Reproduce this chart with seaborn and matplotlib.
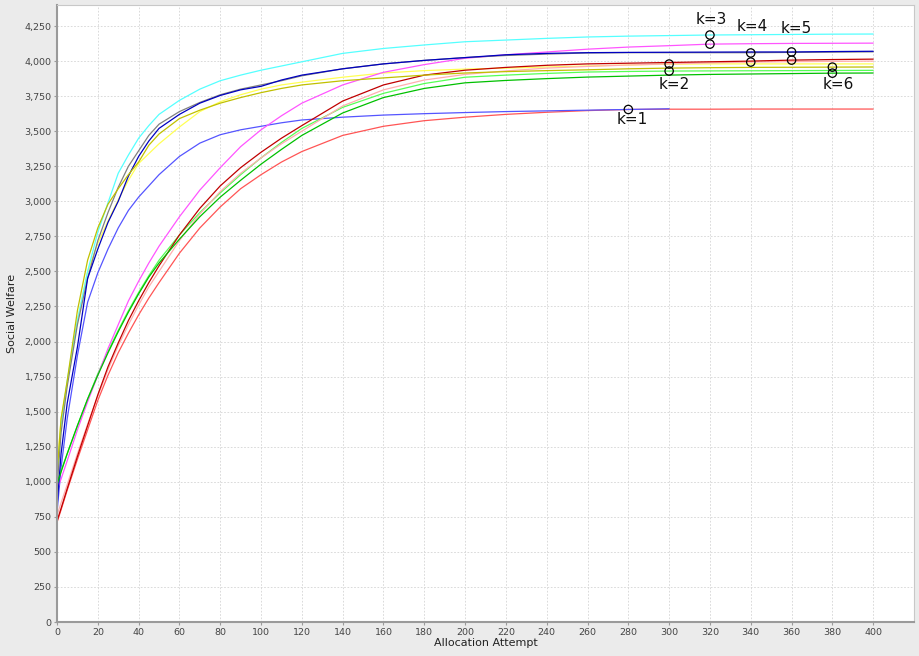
import matplotlib
matplotlib.use("Agg")
import matplotlib.pyplot as plt
from matplotlib.ticker import MultipleLocator, FuncFormatter
import pandas as pd
import seaborn as sns

# Allocation attempts at which social welfare was sampled
attempts = [0, 2, 5, 10, 15, 20, 25, 30, 35, 40, 45, 50, 60, 70, 80, 90, 100,
            110, 120, 140, 160, 180, 200, 220, 240, 260, 280, 300, 320, 340,
            360, 380, 400]

# Social welfare per run (slow / fast variant for each k)
welfare_red = [710, 800, 940, 1160, 1370, 1580, 1760, 1920, 2060, 2190, 2310,
               2420, 2630, 2810, 2960, 3090, 3190, 3280, 3355, 3470, 3535,
               3575, 3600, 3620, 3635, 3647, 3655, 3657, 3657, 3658, 3658,
               3658, 3658]
welfare_blue = [780, 1100, 1450, 1900, 2280, 2490, 2660, 2810, 2935, 3030,
                3110, 3190, 3320, 3415, 3475, 3510, 3535, 3560, 3580, 3600,
                3615, 3625, 3633, 3640, 3645, 3650, 3655, 3660]
welfare_green = [1000, 1080, 1200, 1400, 1590, 1770, 1930, 2080, 2220, 2350,
                 2470, 2580, 2760, 2920, 3060, 3190, 3310, 3420, 3520, 3670,
                 3770, 3840, 3885, 3900, 3912, 3922, 3926, 3929, 3930, 3931,
                 3932, 3933, 3934]
welfare_yellow = [1080, 1450, 1700, 2150, 2500, 2700, 2860, 3010, 3150, 3270,
                  3340, 3410, 3530, 3640, 3710, 3760, 3800, 3830, 3850, 3885,
                  3915, 3932, 3943, 3950, 3958, 3965, 3972, 3978, 3980, 3980,
                  3980, 3980, 3980]
welfare_magenta = [940, 1020, 1150, 1370, 1570, 1760, 1950, 2120, 2290, 2430,
                   2560, 2680, 2890, 3080, 3240, 3390, 3510, 3610, 3700, 3830,
                   3920, 3975, 4020, 4045, 4065, 4085, 4100, 4110, 4121, 4124,
                   4126, 4127, 4128]
welfare_cyan = [1000, 1400, 1720, 2150, 2500, 2780, 2990, 3200, 3330, 3450,
                3540, 3620, 3720, 3800, 3860, 3900, 3935, 3965, 3995, 4055,
                4090, 4115, 4138, 4150, 4162, 4172, 4178, 4182, 4186, 4188,
                4190, 4192, 4193]
welfare_pink = [760, 850, 980, 1200, 1410, 1610, 1800, 1970, 2120, 2260, 2390,
                2500, 2720, 2910, 3070, 3200, 3310, 3410, 3500, 3680, 3795,
                3865, 3905, 3930, 3950, 3962, 3972, 3980, 3987, 3993, 3996,
                3998, 4000]
welfare_gray = [950, 1350, 1680, 2120, 2450, 2720, 2920, 3100, 3250, 3360,
                3470, 3550, 3640, 3705, 3760, 3800, 3830, 3860, 3895, 3945,
                3980, 4005, 4025, 4040, 4050, 4058, 4060, 4060, 4060, 4060,
                4062, 4064, 4066]
welfare_dark_red = [720, 810, 950, 1180, 1400, 1620, 1820, 1990, 2150, 2290,
                    2420, 2540, 2760, 2950, 3110, 3240, 3350, 3450, 3540, 3715,
                    3830, 3900, 3935, 3955, 3970, 3980, 3985, 3990, 3995, 4000,
                    4007, 4011, 4014]
welfare_dark_blue = [820, 1200, 1560, 1960, 2450, 2660, 2850, 3000, 3180, 3320,
                     3430, 3520, 3620, 3700, 3755, 3795, 3820, 3865, 3900,
                     3945, 3980, 4005, 4025, 4045, 4055, 4060, 4062, 4063,
                     4064, 4065, 4065, 4068, 4070]
welfare_dark_green = [980, 1070, 1200, 1400, 1590, 1760, 1920, 2070, 2210,
                      2340, 2460, 2560, 2730, 2890, 3030, 3150, 3265, 3370,
                      3470, 3630, 3740, 3805, 3845, 3862, 3875, 3886, 3893,
                      3900, 3905, 3908, 3911, 3914, 3915]
welfare_dark_yellow = [1050, 1450, 1720, 2220, 2580, 2810, 2980, 3090, 3190,
                       3280, 3400, 3480, 3590, 3650, 3700, 3740, 3775, 3805,
                       3830, 3860, 3880, 3900, 3915, 3925, 3932, 3938, 3945,
                       3950, 3953, 3955, 3956, 3957, 3958]

series_names = ["red", "blue", "green", "yellow", "magenta", "cyan", "pink",
                "gray", "dark red", "dark blue", "dark green", "dark yellow"]
series_values = [welfare_red, welfare_blue, welfare_green, welfare_yellow,
                 welfare_magenta, welfare_cyan, welfare_pink, welfare_gray,
                 welfare_dark_red, welfare_dark_blue, welfare_dark_green,
                 welfare_dark_yellow]
series_colors = ["#FF5555", "#5555FF", "#55FF55", "#FFFF55", "#FF55FF",
                 "#55FFFF", "#FFAFAF", "#808080", "#C00000", "#0000C0",
                 "#00C000", "#C0C000"]

# Points where each k-run settles
marker_attempts = [280, 300, 300, 320, 320, 340, 340, 360, 360, 380, 380]
marker_welfare = [3655, 3979, 3929, 4186, 4121, 4058, 3993, 4065, 4007, 3957,
                  3914]

k_labels = ["k=1", "k=2", "k=3", "k=4", "k=5", "k=6"]
k_label_attempts = [280, 300, 320, 340, 360, 380]
k_label_welfare = [3655, 3929, 4186, 4058, 4065, 3914]

rows = []
for name, values in zip(series_names, series_values):
    for a, w in zip(attempts, values):
        rows.append({"series": name, "attempt": a, "welfare": w})
df = pd.DataFrame(rows)

sns.set_theme(style="white")
plt.rcParams["font.family"] = ["DejaVu Sans"]

fig = plt.figure(figsize=(9.2, 6.56), dpi=100, facecolor="#ebebeb")
ax = fig.add_axes([57 / 920, 34 / 656, 857 / 920, 617 / 656])
ax.set_facecolor("white")

sns.lineplot(data=df, x="attempt", y="welfare", hue="series",
             hue_order=series_names, palette=series_colors, estimator=None,
             sort=False, linewidth=0.9, legend=False, ax=ax)

mk = pd.DataFrame({"attempt": marker_attempts, "welfare": marker_welfare})
sns.scatterplot(data=mk, x="attempt", y="welfare", marker="o", s=36,
                facecolor="none", edgecolor="black", linewidth=0.9, ax=ax,
                zorder=5)

# label offsets in points: above for k=3,4,5, below for k=1,2,6
offsets = [(3, -7.5), (3.5, -9.5), (1, 11.5), (1, 19), (3.5, 17), (4, -8.5)]
for lab, a, w, off in zip(k_labels, k_label_attempts, k_label_welfare,
                          offsets):
    ax.annotate(lab, xy=(a, w), xytext=off, textcoords="offset points",
                ha="center", va="center", fontsize=11, color="#111111")

ax.set_xlim(0, 420)
ax.set_ylim(0, 4400)
ax.set_xticks(list(range(0, 401, 20)))
ax.yaxis.set_major_locator(MultipleLocator(250))
ax.yaxis.set_major_formatter(FuncFormatter(lambda v, p: f"{int(v):,}"))

ax.grid(True, color="#d4d4d4", linestyle=(0, (2, 2)), linewidth=0.6)
ax.set_axisbelow(True)

for side in ("top", "right"):
    ax.spines[side].set_color("#c8c8c8")
    ax.spines[side].set_linewidth(0.8)
for side in ("left", "bottom"):
    ax.spines[side].set_color("#9a9a9a")
    ax.spines[side].set_linewidth(1.5)

ax.tick_params(axis="both", which="major", labelsize=6.8, colors="#9a9a9a",
               labelcolor="#444444", length=2, width=0.8, direction="out",
               pad=2, bottom=True, left=True)

ax.set_xlabel("Allocation Attempt", fontsize=8, color="#222222", labelpad=1)
ax.set_ylabel("Social Welfare", fontsize=8, color="#222222", labelpad=5)

fig.savefig("out.png", dpi=100, facecolor=fig.get_facecolor())
